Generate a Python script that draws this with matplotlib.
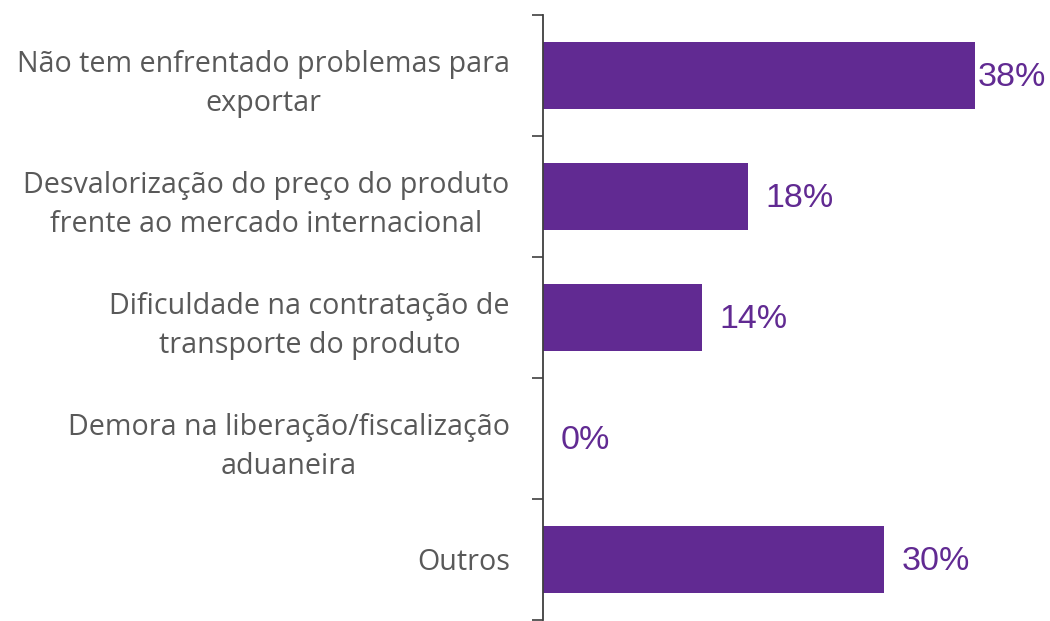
import matplotlib
matplotlib.use("Agg")
import matplotlib.pyplot as plt

categories = [
    "Não tem enfrentado problemas para\nexportar",
    "Desvalorização do preço do produto\nfrente ao mercado internacional",
    "Dificuldade na contratação de\ntransporte do produto",
    "Demora na liberação/fiscalização\naduaneira",
    "Outros",
]
values = [38, 18, 14, 0, 30]

BAR_COLOR = "#612A92"
TEXT_GRAY = "#595959"

fig = plt.figure(figsize=(10.5, 6.21), dpi=100)
ax = fig.add_axes([543 / 1050, 1 / 621, 500 / 1050, 605 / 621])

ypos = list(range(len(categories)))
ax.barh(ypos, values, height=0.55, color=BAR_COLOR)

ax.set_xlim(0, 44)
ax.set_ylim(len(categories) - 0.5, -0.5)

# category boundaries get tick marks, labels sit between them
ax.set_yticks([i - 0.5 for i in range(len(categories) + 1)])
ax.set_yticklabels([])
ax.set_yticks(ypos, minor=True)
ax.set_yticklabels(categories, minor=True, fontfamily="Open Sans",
                   fontsize=20.6, color=TEXT_GRAY, ha="right",
                   multialignment="center", linespacing=1.45)
ax.tick_params(axis="y", which="major", length=8, width=1.2,
               color="#3f3f3f", direction="out")
ax.tick_params(axis="y", which="minor", length=0, pad=24)

ax.set_xticks([])
for s in ["top", "right", "bottom"]:
    ax.spines[s].set_visible(False)
ax.spines["left"].set_color("#3f3f3f")
ax.spines["left"].set_linewidth(1.3)

vmax = max(values)
for y, v in zip(ypos, values):
    off = 2 if v == vmax else 12.5
    ax.annotate(f"{v}%", xy=(v, y + 0.02), xytext=(off, 0), textcoords="offset points",
                va="center", ha="left", fontsize=24.5, color=BAR_COLOR,
                fontfamily="Liberation Sans")

fig.savefig("out.png", dpi=100)
